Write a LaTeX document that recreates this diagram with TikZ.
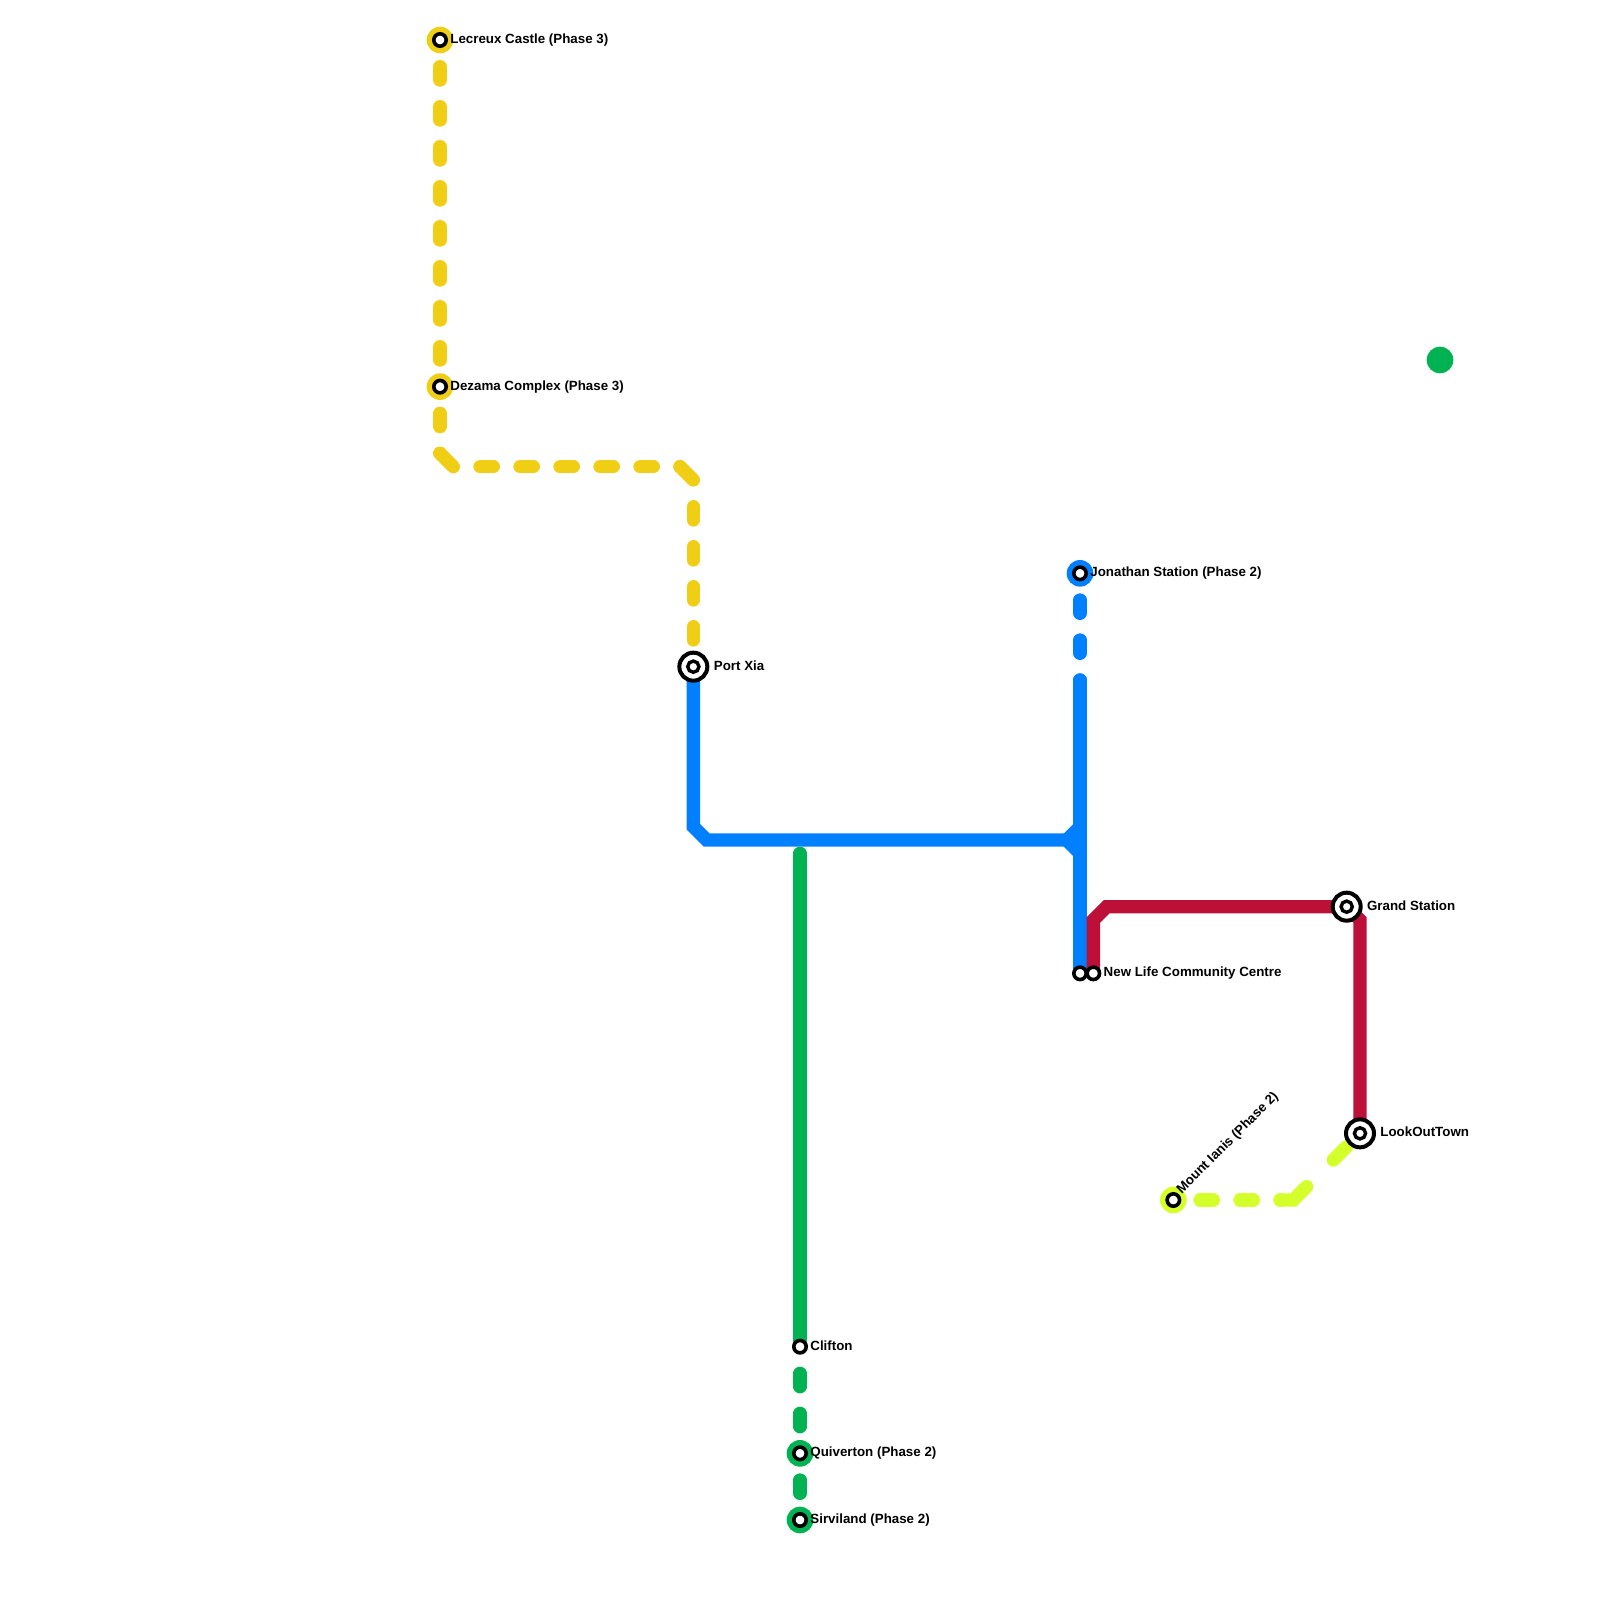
\documentclass[tikz,border=0pt]{standalone}
\usepackage{fontspec}
\setmainfont{Liberation Sans}
\definecolor{lyellow}{HTML}{F0CE15}
\definecolor{lblue}{HTML}{0080FF}
\definecolor{lgreen}{HTML}{00B251}
\definecolor{lred}{HTML}{BD1038}
\definecolor{llime}{HTML}{D5FF2B}
\tikzset{
  x=0.5pt,y=-0.5pt,
  metro/.style={line width=6.667pt,miter limit=10,line join=miter},
  solidend/.style={metro,line cap=round},
  dashline/.style={metro,line cap=round,dash pattern=on 6.667pt off 13.333pt,dash phase=6.667pt},
  ptcircle/.style={circle,inner sep=0pt,outer sep=0pt,minimum size=#1},
  halo/.style={ptcircle=13.333pt,fill=#1,draw=none},
  ring/.style={ptcircle=6.2pt,fill=white,draw=black,line width=1.8pt},
  innerring/.style={ptcircle=5.6pt,fill=white,draw=black,line width=1.7pt},
  bigring/.style={ptcircle=14pt,fill=white,draw=black,line width=2pt},
  lab/.style={anchor=base west,inner sep=0pt,font=\fontsize{6.667pt}{8pt}\selectfont\bfseries,text=black},
}
\begin{document}
\begin{tikzpicture}
\useasboundingbox (0,0) rectangle (1600,1600);
% named stations
\coordinate (lec) at (440,40);
\coordinate (dez) at (440,386.667);
\coordinate (ya) at (440,453.333);
\coordinate (yb) at (453.333,466.667);
\coordinate (yc) at (680,466.667);
\coordinate (yd) at (693.333,480);
\coordinate (px) at (693.333,666.667);
\coordinate (ba) at (693.333,826.667);
\coordinate (bb) at (706.667,840);
\coordinate (bc) at (1066.667,840);
\coordinate (bd) at (1080,826.667);
\coordinate (be) at (1080,853.333);
\coordinate (jon) at (1080,573.333);
\coordinate (bf) at (1080,680);
\coordinate (nl1) at (1080,973.333);
\coordinate (nl2) at (1093.333,973.333);
\coordinate (ra) at (1093.333,920);
\coordinate (rb) at (1106.667,906.667);
\coordinate (gs) at (1346.667,906.667);
\coordinate (rc) at (1360,920);
\coordinate (lo) at (1360,1133.333);
\coordinate (gt) at (800,853.333);
\coordinate (cl) at (800,1346.667);
\coordinate (qu) at (800,1453.333);
\coordinate (si) at (800,1520);
\coordinate (mi) at (1173.333,1200);
\coordinate (la) at (1280,1200);
\coordinate (lb) at (1293.333,1200);
\coordinate (lc) at (1306.667,1186.667);
\coordinate (ld) at (1333.333,1160);
\coordinate (le) at (1346.667,1146.667);
% green
\draw[solidend,lgreen] (gt) -- (cl);
\draw[dashline,lgreen] (cl) -- (qu);
\draw[dashline,lgreen] (qu) -- (si);
% yellow
\draw[dashline,lyellow] (lec) -- (dez);
\draw[dashline,lyellow] (dez) -- (ya);
\draw[solidend,lyellow] (ya) -- (yb);
\draw[dashline,lyellow] (yb) -- (yc);
\draw[solidend,lyellow] (yc) -- (yd);
\draw[dashline,lyellow] (yd) -- (px);
% blue
\draw[metro,lblue] (px) -- (ba) -- (bb) -- (bc);
\draw[metro,lblue] (bd) -- (bc) -- (be);
\draw[dashline,lblue] (jon) -- (bf);
\draw[metro,lblue,line cap=round] (bf) -- (1080,700);
\draw[metro,lblue] (1080,700) -- (nl1);
% red
\draw[metro,lred] (nl2) -- (ra) -- (rb) -- (gs) -- (rc) -- (lo);
% lime
\draw[dashline,llime] (mi) -- (la);
\draw[solidend,llime] (la) -- (lb) -- (lc);
\draw[solidend,llime] (ld) -- (le);
% free dot
\node[halo=lgreen] (dot) at (1440,360) {};
% stations
\node[halo=lyellow] (h1) at (lec) {}; \node[ring] (s1) at (lec) {};
\node[halo=lyellow] (h2) at (dez) {}; \node[ring] (s2) at (dez) {};
\node[bigring] (b3) at (px) {}; \node[innerring] (s3) at (px) {};
\node[halo=lblue] (h4) at (jon) {}; \node[ring] (s4) at (jon) {};
\node[ring] (s5) at (nl1) {};
\node[ring] (s6) at (nl2) {};
\node[bigring] (b7) at (gs) {}; \node[innerring] (s7) at (gs) {};
\node[bigring] (b8) at (lo) {}; \node[innerring] (s8) at (lo) {};
\node[ring] (s9) at (cl) {};
\node[halo=lgreen] (h10) at (qu) {}; \node[ring] (s10) at (qu) {};
\node[halo=lgreen] (h11) at (si) {}; \node[ring] (s11) at (si) {};
\node[halo=llime] (h12) at (mi) {}; \node[ring] (s12) at (mi) {};
% labels
\node[lab] (t1) at (450,43.6) {Lecreux Castle (Phase 3)};
\node[lab] (t2) at (450,390.2) {Dezama Complex (Phase 3)};
\node[lab] (t3) at (713.5,670) {Port Xia};
\node[lab] (t4) at (1090,576.9) {Jonathan Station (Phase 2)};
\node[lab] (t5) at (1103.3,976.9) {New Life Community Centre};
\node[lab] (t6) at (1366.7,910) {Grand Station};
\node[lab] (t7) at (1380,1136.9) {LookOutTown};
\node[lab] (t8) at (810,1350.2) {Clifton};
\node[lab] (t9) at (810,1456.9) {Quiverton (Phase 2)};
\node[lab] (t10) at (810,1523.6) {Sirviland (Phase 2)};
\node[lab,rotate=45] (t11) at (1181.5,1194.5) {Mount Ianis (Phase 2)};
\end{tikzpicture}
\end{document}
